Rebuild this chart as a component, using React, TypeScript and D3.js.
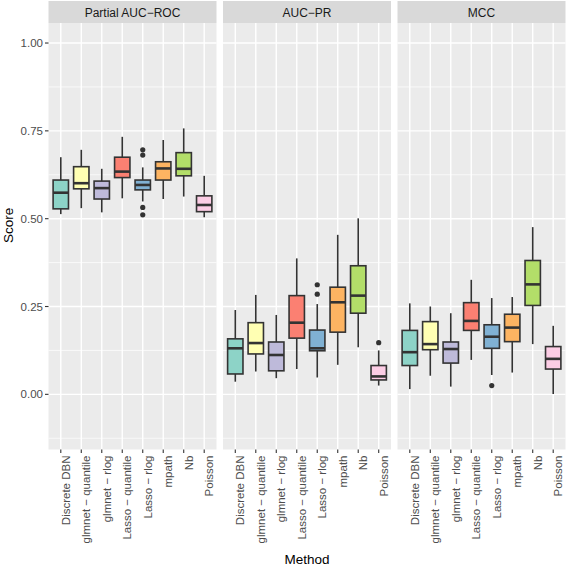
import React from "react";
import * as d3 from "d3";

const methods = [
  "Discrete DBN",
  "glmnet − quantile",
  "glmnet − rlog",
  "Lasso − quantile",
  "Lasso − rlog",
  "mpath",
  "Nb",
  "Poisson",
];

const panels = ["Partial AUC−ROC", "AUC−PR", "MCC"];

// [lower whisker, q1, median, q3, upper whisker]
const partialAucRoc = [
  [0.513, 0.528, 0.574, 0.61, 0.675],
  [0.53, 0.585, 0.601, 0.648, 0.696],
  [0.518, 0.556, 0.587, 0.607, 0.642],
  [0.558, 0.617, 0.634, 0.675, 0.733],
  [0.549, 0.582, 0.596, 0.61, 0.646],
  [0.556, 0.61, 0.643, 0.662, 0.724],
  [0.563, 0.622, 0.642, 0.688, 0.757],
  [0.504, 0.52, 0.539, 0.565, 0.622],
];
const partialAucRocOutliers = [[], [], [], [], [0.696, 0.681, 0.532, 0.511], [], [], []];

const aucPr = [
  [0.036, 0.058, 0.131, 0.158, 0.24],
  [0.065, 0.115, 0.146, 0.204, 0.283],
  [0.046, 0.067, 0.112, 0.149, 0.226],
  [0.072, 0.16, 0.204, 0.281, 0.387],
  [0.048, 0.124, 0.131, 0.183, 0.257],
  [0.084, 0.177, 0.262, 0.305, 0.454],
  [0.134, 0.231, 0.281, 0.366, 0.501],
  [0.025, 0.041, 0.051, 0.082, 0.125],
];
const aucPrOutliers = [[], [], [], [], [0.312, 0.285], [], [], [0.147]];

const mcc = [
  [0.015, 0.082, 0.12, 0.182, 0.259],
  [0.053, 0.127, 0.143, 0.207, 0.25],
  [0.022, 0.089, 0.129, 0.149, 0.231],
  [0.098, 0.182, 0.209, 0.261, 0.326],
  [0.055, 0.131, 0.164, 0.198, 0.274],
  [0.062, 0.15, 0.19, 0.228, 0.277],
  [0.143, 0.253, 0.313, 0.381, 0.476],
  [0.001, 0.072, 0.101, 0.136, 0.195],
];
const mccOutliers = [[], [], [], [], [0.025], [], [], []];

const panelStats = [partialAucRoc, aucPr, mcc];
const panelOutliers = [partialAucRocOutliers, aucPrOutliers, mccOutliers];

const yTicks = [0, 0.25, 0.5, 0.75, 1.0];
const yMinor = [-0.125, 0.125, 0.375, 0.625, 0.875];
const colors = ["#8dd3c7", "#ffffb3", "#bebada", "#fb8072", "#80b1d3", "#fdb462", "#b3de69", "#fccde5"];

const W = 567;
const H = 567;
const panelTop = 23;
const panelBottom = 449.5;
const stripTop = 1;
const panelW = 168;
const panelLefts = [48.5, 223, 397.5];

export default function App() {
  const y = d3.scaleLinear().domain([-0.157, 1.057]).range([panelBottom, panelTop]);
  const font = "Liberation Sans, Arial, Helvetica, sans-serif";

  return (
    <svg width={W} height={H} style={{ position: "absolute", left: 0, top: 0, background: "#fff" }} fontFamily={font}>
      <rect x={0} y={0} width={W} height={H} fill="#fff" />
      {panels.map((name, pi) => {
        const left = panelLefts[pi];
        const x = d3.scalePoint<string>().domain(methods).range([left, left + panelW]).padding(0.6);
        const step = x.step();
        const bw = step * 0.75;
        const stats = panelStats[pi];
        const outs = panelOutliers[pi];
        return (
          <g key={name}>
            {/* strip */}
            <rect x={left} y={stripTop} width={panelW} height={panelTop - stripTop} fill="#d9d9d9" />
            <text x={left + panelW / 2} y={16.5} textAnchor="middle" fontSize={12} fill="#1a1a1a">
              {name}
            </text>
            {/* panel bg */}
            <rect x={left} y={panelTop} width={panelW} height={panelBottom - panelTop} fill="#ebebeb" />
            {yMinor.map((t) => (
              <line key={"mi" + t} x1={left} x2={left + panelW} y1={y(t)} y2={y(t)} stroke="#fff" strokeWidth={0.7} />
            ))}
            {yTicks.map((t) => (
              <line key={"ma" + t} x1={left} x2={left + panelW} y1={y(t)} y2={y(t)} stroke="#fff" strokeWidth={1.4} />
            ))}
            {methods.map((m) => (
              <line key={"v" + m} x1={x(m)} x2={x(m)} y1={panelTop} y2={panelBottom} stroke="#fff" strokeWidth={1.4} />
            ))}
            {/* boxes */}
            {methods.map((m, i) => {
              const [lo, q1, med, q3, hi] = stats[i];
              const cx = x(m)!;
              return (
                <g key={"b" + m}>
                  <line x1={cx} x2={cx} y1={y(hi)} y2={y(q3)} stroke="#333" strokeWidth={1.6} />
                  <line x1={cx} x2={cx} y1={y(q1)} y2={y(lo)} stroke="#333" strokeWidth={1.6} />
                  <rect
                    x={cx - bw / 2}
                    y={y(q3)}
                    width={bw}
                    height={y(q1) - y(q3)}
                    fill={colors[i]}
                    stroke="#333"
                    strokeWidth={1.6}
                  />
                  <line x1={cx - bw / 2} x2={cx + bw / 2} y1={y(med)} y2={y(med)} stroke="#333" strokeWidth={2.6} />
                  {outs[i].map((o, k) => (
                    <circle key={k} cx={cx} cy={y(o)} r={2.6} fill="#333" />
                  ))}
                </g>
              );
            })}
            {/* x ticks + labels */}
            {methods.map((m) => (
              <g key={"t" + m}>
                <line x1={x(m)} x2={x(m)} y1={panelBottom} y2={panelBottom + 3.5} stroke="#333" strokeWidth={1.1} />
                <text
                  transform={`translate(${x(m)! + 8.8},${panelBottom + 6}) rotate(-90)`}
                  textAnchor="end"
                  fontSize={11.5}
                  fill="#4d4d4d"
                >
                  {m}
                </text>
              </g>
            ))}
          </g>
        );
      })}
      {/* y axis */}
      {yTicks.map((t) => (
        <g key={"yt" + t}>
          <line x1={panelLefts[0] - 3.5} x2={panelLefts[0]} y1={y(t)} y2={y(t)} stroke="#333" strokeWidth={1.1} />
          <text x={panelLefts[0] - 5.5} y={y(t)} dy="0.35em" textAnchor="end" fontSize={11.5} fill="#4d4d4d">
            {d3.format(".2f")(t)}
          </text>
        </g>
      ))}
      <text transform={`translate(12.5,${(stripTop + panelBottom) / 2}) rotate(-90)`} textAnchor="middle" fontSize={13.5} fill="#000">
        Score
      </text>
      <text x={(panelLefts[0] + panelLefts[2] + panelW) / 2} y={564} textAnchor="middle" fontSize={13.5} fill="#000">
        Method
      </text>
    </svg>
  );
}
